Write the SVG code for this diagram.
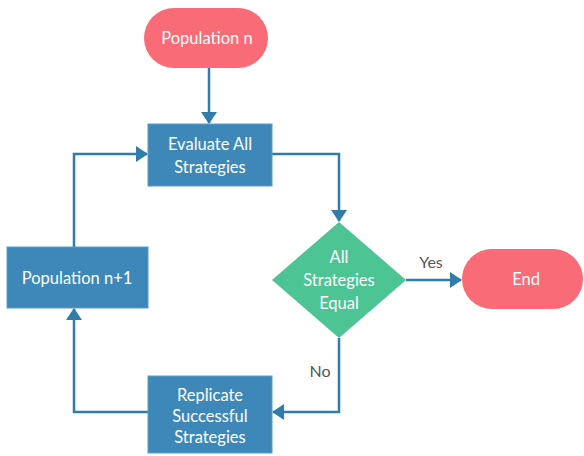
<svg xmlns="http://www.w3.org/2000/svg" width="584" height="456" viewBox="0 0 584 456">
<style>
.t{font-family:Lato,"Open Sans",sans-serif;font-size:16.5px;fill:#fff;text-anchor:middle}
.l{font-family:Lato,"Open Sans",sans-serif;font-size:16px;fill:#555;text-anchor:middle}
.box{fill:#3D88B8;stroke:#5B9CC6;stroke-width:1}
.pill{fill:#F96B76}
.c{fill:none;stroke:#2F7DA8;stroke-width:2.5}
</style>
<defs>
<marker id="a" markerWidth="12" markerHeight="18" refX="11" refY="9" orient="auto" markerUnits="userSpaceOnUse">
<path d="M0,1 L12,9 L0,17 Z" fill="#2F7DA8"/>
</marker>
</defs>
<rect width="584" height="456" fill="#fff"/>
<g id="connectors">
<path class="c" d="M209,68 V123" marker-end="url(#a)"/>
<path class="c" d="M272,154 H339 V221" marker-end="url(#a)"/>
<path class="c" d="M406,280 H461" marker-end="url(#a)"/>
<path class="c" d="M339,338 V412 H273" marker-end="url(#a)"/>
<path class="c" d="M148,412 H74 V309" marker-end="url(#a)"/>
<path class="c" d="M74,247 V154 H147" marker-end="url(#a)"/>
<text class="l" x="431" y="268">Yes</text>
<text class="l" x="320" y="377">No</text>
</g>
<g id="population-n">
<rect class="pill" x="144" y="8" width="124" height="60" rx="30"/>
<text class="t" x="207" y="44">Population n</text>
</g>
<g id="evaluate">
<rect class="box" x="148" y="124" width="124" height="62"/>
<text class="t" x="210" y="150">Evaluate All</text>
<text class="t" x="210" y="173">Strategies</text>
</g>
<g id="decision">
<path d="M339,222 L406,280 L339,338 L272,280 Z" fill="#4DC493"/>
<text class="t" x="339" y="263">All</text>
<text class="t" x="339" y="286">Strategies</text>
<text class="t" x="339" y="309">Equal</text>
</g>
<g id="end">
<rect class="pill" x="462" y="249" width="121" height="60" rx="30"/>
<text class="t" x="526" y="285">End</text>
</g>
<g id="replicate">
<rect class="box" x="148" y="376" width="124" height="77"/>
<text class="t" x="210" y="401">Replicate</text>
<text class="t" x="210" y="422">Successful</text>
<text class="t" x="210" y="443">Strategies</text>
</g>
<g id="population-n1">
<rect class="box" x="7" y="247" width="141" height="61"/>
<text class="t" x="77" y="284">Population n+1</text>
</g>
</svg>
